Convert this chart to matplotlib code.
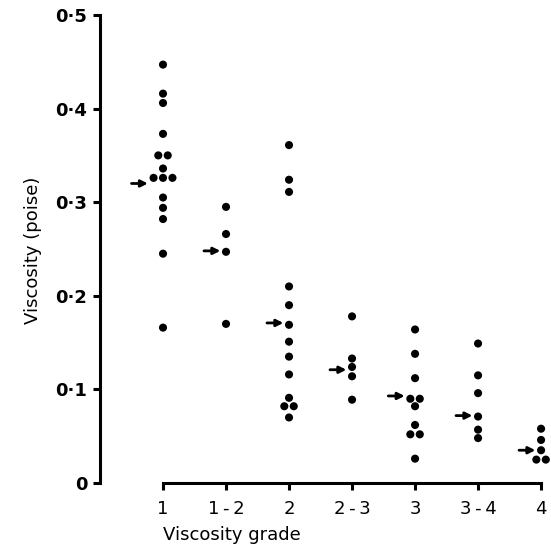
import matplotlib
matplotlib.use("Agg")
import matplotlib.pyplot as plt
import numpy as np

plt.rcParams['font.family'] = ['DejaVu Sans']

# viscosity grade categories
grades = ['1', '1\u2009-\u20092', '2', '2\u2009-\u20093', '3', '3\u2009-\u20094', '4']

# measured viscosity (poise) for each grade
visc_1 = [0.447, 0.416, 0.406, 0.373, 0.350, 0.350, 0.336, 0.326, 0.326, 0.326,
          0.305, 0.294, 0.282, 0.245, 0.166]
visc_1_2 = [0.295, 0.266, 0.247, 0.170]
visc_2 = [0.361, 0.324, 0.311, 0.210, 0.190, 0.169, 0.151, 0.135, 0.116,
          0.091, 0.082, 0.082, 0.070]
visc_2_3 = [0.178, 0.133, 0.124, 0.114, 0.089]
visc_3 = [0.164, 0.138, 0.112, 0.090, 0.090, 0.082, 0.062, 0.052, 0.052, 0.026]
visc_3_4 = [0.149, 0.115, 0.096, 0.071, 0.057, 0.048]
visc_4 = [0.058, 0.046, 0.035, 0.025, 0.025]

# arrow marks (median) per grade
arrow_vals = [0.320, 0.248, 0.171, 0.121, 0.093, 0.072, 0.035]

groups = [visc_1, visc_1_2, visc_2, visc_2_3, visc_3, visc_3_4, visc_4]

fig = plt.figure(figsize=(5.51, 5.48), dpi=100)
ax = fig.add_axes([100 / 551, 65 / 548, 448 / 551, 468 / 548])

spread = 0.15
for i, vals in enumerate(groups):
    vals = np.array(vals)
    xs = np.zeros(len(vals))
    # spread identical readings side by side
    for v in np.unique(vals):
        idx = np.where(vals == v)[0]
        n = len(idx)
        xs[idx] = (np.arange(n) - (n - 1) / 2) * spread
    ax.scatter(i + xs, vals, s=34, color='black', edgecolors='none',
               clip_on=False, zorder=3)

    # arrow pointing at the median dot
    a = arrow_vals[i]
    near = np.abs(vals - a) < 0.008
    left = xs[near].min() if near.any() else 0.0
    tip = i + left - 0.09
    ax.annotate('', xy=(tip, a), xytext=(tip - 0.26, a),
                arrowprops=dict(arrowstyle='-|>', color='black', lw=2,
                                mutation_scale=10, shrinkA=0, shrinkB=0))

ax.set_xlim(-1, 6.11)
ax.set_ylim(0, 0.5)

for s in ['top', 'right']:
    ax.spines[s].set_visible(False)
ax.spines['left'].set_bounds(0, 0.5)
ax.spines['bottom'].set_bounds(0, 6)
ax.spines['left'].set_linewidth(2.2)
ax.spines['bottom'].set_linewidth(2.2)

ax.set_xticks(range(len(grades)))
ax.set_xticklabels(grades)
yt = [0, 0.1, 0.2, 0.3, 0.4, 0.5]
ax.set_yticks(yt)
ax.set_yticklabels(['0'] + ['0\u00b7%d' % k for k in range(1, 6)])
ax.tick_params(axis='both', direction='out', length=5, width=2.2)
ax.tick_params(axis='y', labelsize=13, pad=4)
ax.tick_params(axis='x', labelsize=13, pad=7)
for lab in ax.get_yticklabels():
    lab.set_fontweight('bold')

fig.text(33 / 551, 1 - 250 / 548, 'Viscosity (poise)', rotation=90,
         ha='center', va='center', fontsize=13)
fig.text(163 / 551, 1 - 535 / 548, 'Viscosity grade', ha='left',
         va='center', fontsize=13)

fig.savefig('out.png', dpi=100)
